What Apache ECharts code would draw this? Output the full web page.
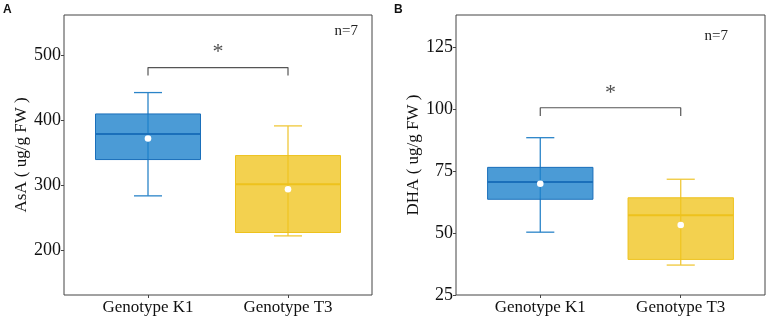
<!DOCTYPE html>
<html>
<head>
<meta charset="utf-8">
<script src="https://cdn.jsdelivr.net/npm/echarts@6/dist/echarts.min.js"></script>
<style>
  html, body { margin: 0; padding: 0; background: #fff; }
  #chart { width: 767px; height: 316px; }
</style>
</head>
<body>
<div id="chart"></div>
<script>
// data
const categories = ['Genotype K1', 'Genotype T3'];
// [min, q1, median, q3, max]
const asaBox = [[283.6, 339.5, 378.9, 409.7, 442.6], [222.0, 227.2, 301.5, 345.6, 391.3]];
const asaMean = [371.8, 293.8];
const dhaBox = [[50.4, 63.7, 70.7, 76.6, 88.6], [37.1, 39.4, 57.2, 64.3, 71.8]];
const dhaMean = [70.0, 53.3];
const asaTicks = [200, 300, 400, 500];
const dhaTicks = [25, 50, 75, 100, 125];
const asaBracket = [469, 481];
const dhaBracket = [97.4, 100.7];
const asaStar = 504;
const dhaStar = 106.5;

const fills = ['rgba(30,130,204,0.80)', 'rgba(240,196,30,0.78)'];
const edges = ['#1a6fba', '#eec21c'];
const whisk = ['#2a84c8', '#f0c83a'];
const serif = '"Liberation Serif", "DejaVu Serif", serif';

function boxData(box, mean) {
  return box.map((b, i) => [i + 1].concat(b, [mean[i]]));
}

function renderBox(params, api) {
  const x = api.value(0);
  const i = params.dataIndex;
  const lo = api.coord([x, api.value(1)]);
  const q1 = api.coord([x, api.value(2)]);
  const med = api.coord([x, api.value(3)]);
  const q3 = api.coord([x, api.value(4)]);
  const hi = api.coord([x, api.value(5)]);
  const mn = api.coord([x, api.value(6)]);
  const half = api.size([0.75, 0])[0] / 2;
  const cap = api.size([0.2, 0])[0] / 2;
  const cx = lo[0];
  const ws = { stroke: whisk[i], lineWidth: 1.3 };
  return {
    type: 'group',
    children: [
      { type: 'line', shape: { x1: cx, y1: lo[1], x2: cx, y2: hi[1] }, style: ws },
      { type: 'line', shape: { x1: cx - cap, y1: lo[1], x2: cx + cap, y2: lo[1] }, style: ws },
      { type: 'line', shape: { x1: cx - cap, y1: hi[1], x2: cx + cap, y2: hi[1] }, style: ws },
      { type: 'rect', shape: { x: cx - half, y: q3[1], width: half * 2, height: q1[1] - q3[1] },
        style: { fill: fills[i], stroke: edges[i], lineWidth: 1 } },
      { type: 'line', shape: { x1: cx - half, y1: med[1], x2: cx + half, y2: med[1] },
        style: { stroke: edges[i], lineWidth: 2 } },
      { type: 'circle', shape: { cx: cx, cy: mn[1], r: 3.3 }, style: { fill: '#fff' } }
    ]
  };
}

function xAxisFor(gi) {
  return {
    type: 'value', gridIndex: gi, min: 0.4, max: 2.6,
    axisLine: { show: false },
    splitLine: { show: false },
    axisTick: { show: true, length: 3, customValues: [1, 2], lineStyle: { color: '#444' } },
    axisLabel: {
      customValues: [1, 2], margin: 4,
      formatter: v => categories[Math.round(v) - 1] || '',
      color: '#111', fontFamily: serif, fontSize: 17
    }
  };
}

function yAxisFor(gi, min, max, ticks, name) {
  return {
    type: 'value', gridIndex: gi, min: min, max: max,
    name: name, nameLocation: 'middle', nameGap: 34,
    nameTextStyle: { color: '#111', fontFamily: serif, fontSize: 17 },
    axisLine: { show: false },
    splitLine: { show: false },
    axisTick: { show: true, length: 3, customValues: ticks, lineStyle: { color: '#444' } },
    axisLabel: { customValues: ticks, margin: 3, color: '#111', fontFamily: serif, fontSize: 18 }
  };
}

function bracketSeries(gi, br) {
  return {
    type: 'line', xAxisIndex: gi, yAxisIndex: gi, symbol: 'none', silent: true,
    lineStyle: { color: '#555', width: 1.2 },
    data: [[1, br[0]], [1, br[1]], [2, br[1]], [2, br[0]]]
  };
}

function starSeries(gi, y) {
  return {
    type: 'scatter', xAxisIndex: gi, yAxisIndex: gi, symbolSize: 1, silent: true,
    itemStyle: { color: 'rgba(0,0,0,0)' },
    label: { show: true, position: 'inside', formatter: '*', color: '#222', fontFamily: serif, fontSize: 22 },
    data: [[1.5, y]]
  };
}

const chart = echarts.init(document.getElementById('chart'));
chart.setOption({
  animation: false,
  grid: [
    { left: 64, right: 395, top: 15, bottom: 21, show: true, borderColor: '#444', borderWidth: 1 },
    { left: 456, right: 2, top: 15, bottom: 21, show: true, borderColor: '#444', borderWidth: 1 }
  ],
  xAxis: [xAxisFor(0), xAxisFor(1)],
  yAxis: [
    yAxisFor(0, 131, 562, asaTicks, 'AsA ( ug/g FW )'),
    yAxisFor(1, 25, 138.2, dhaTicks, 'DHA ( ug/g FW )')
  ],
  series: [
    { type: 'custom', xAxisIndex: 0, yAxisIndex: 0, renderItem: renderBox,
      encode: { x: 0, y: [1, 2, 3, 4, 5] }, data: boxData(asaBox, asaMean) },
    { type: 'custom', xAxisIndex: 1, yAxisIndex: 1, renderItem: renderBox,
      encode: { x: 0, y: [1, 2, 3, 4, 5] }, data: boxData(dhaBox, dhaMean) },
    bracketSeries(0, asaBracket),
    bracketSeries(1, dhaBracket),
    starSeries(0, asaStar),
    starSeries(1, dhaStar)
  ],
  graphic: [
    { type: 'text', left: 3, top: 4, style: { text: 'A', fontFamily: '"Liberation Sans", Arial, sans-serif', fontWeight: 'bold', fontSize: 12, fill: '#111' } },
    { type: 'text', left: 394, top: 4, style: { text: 'B', fontFamily: '"Liberation Sans", Arial, sans-serif', fontWeight: 'bold', fontSize: 12, fill: '#111' } },
    { type: 'text', right: 409, top: 24, style: { text: 'n=7', fontFamily: serif, fontSize: 15, fill: '#222' } },
    { type: 'text', right: 39, top: 29, style: { text: 'n=7', fontFamily: serif, fontSize: 15, fill: '#222' } }
  ]
});
</script>
</body>
</html>
